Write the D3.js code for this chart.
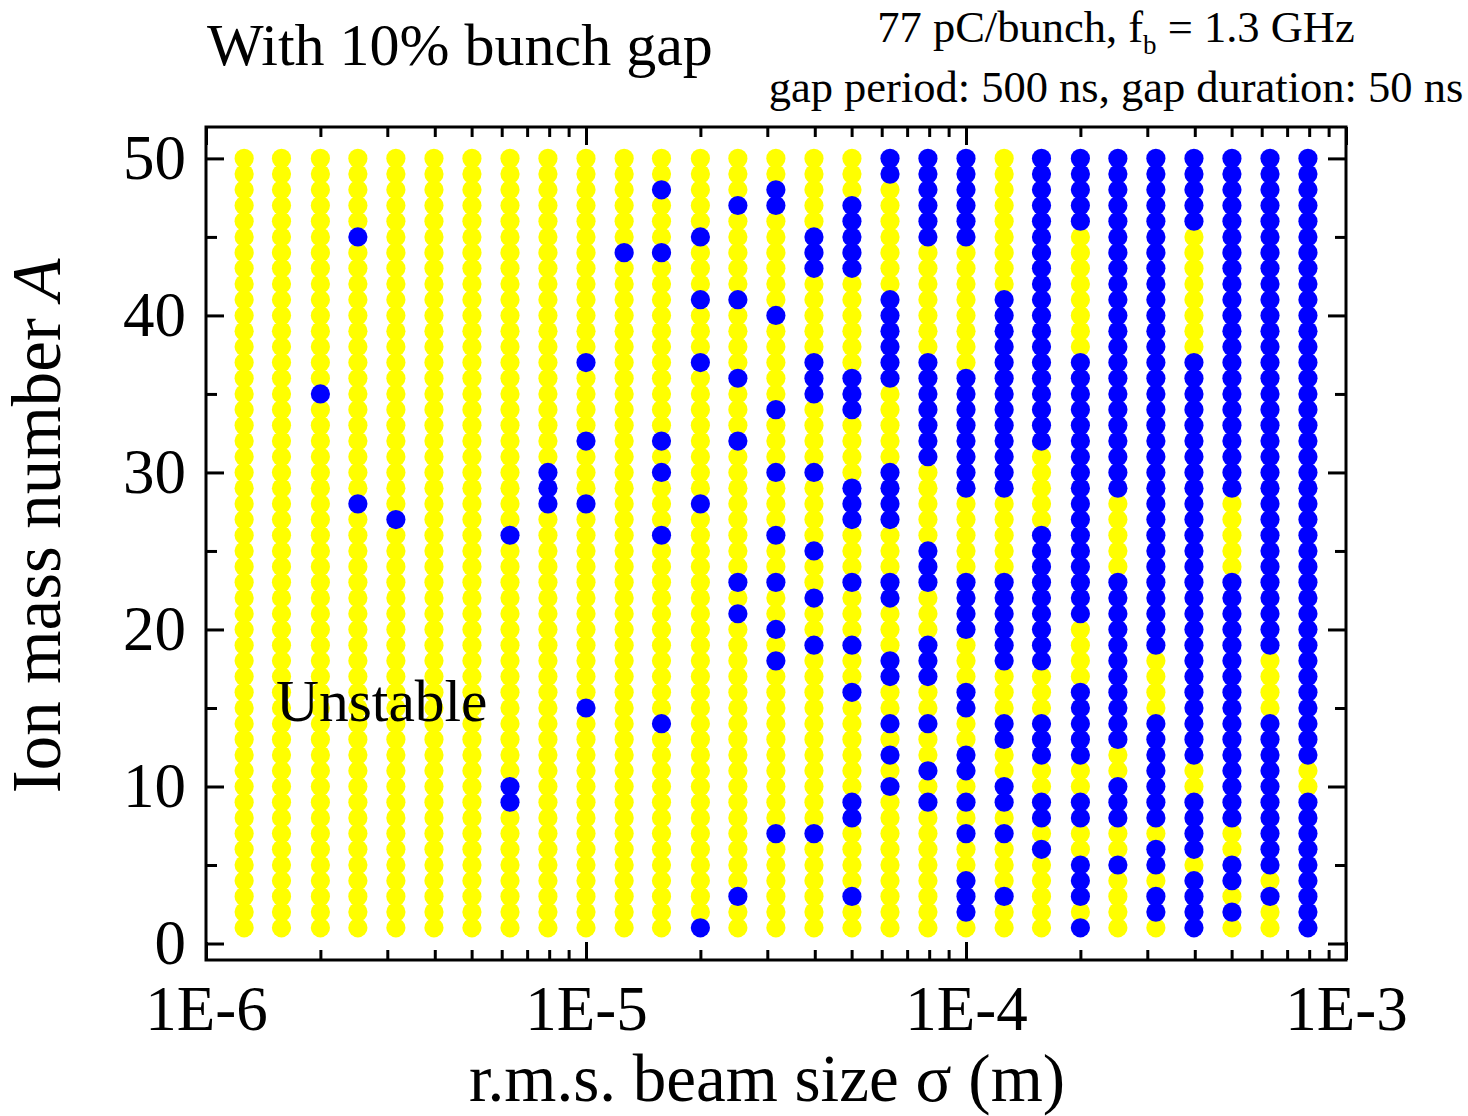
<!DOCTYPE html>
<style>

body { margin: 0; background: #fff; }
text { font-family: "Liberation Serif", "Times New Roman", serif; fill: #000; }
.axis .domain { display: none; }
.axis line { stroke: #000; stroke-width: 3; }

</style>
<svg width="1468" height="1116"></svg>
<script src="https://d3js.org/d3.v7.min.js"></script>
<script>

// r.m.s. beam size (m), one column of the scan each
var sigma = [1.26e-6, 1.58e-6, 2.00e-6, 2.51e-6, 3.16e-6, 3.98e-6, 5.01e-6, 6.31e-6, 7.94e-6,
             1.00e-5, 1.26e-5, 1.58e-5, 2.00e-5, 2.51e-5, 3.16e-5, 3.98e-5, 5.01e-5, 6.31e-5, 7.94e-5,
             1.00e-4, 1.26e-4, 1.58e-4, 2.00e-4, 2.51e-4, 3.16e-4, 3.98e-4, 5.01e-4, 6.31e-4, 7.94e-4];

// ion mass numbers, same order as the characters of each stability string
var massNumbers = [50, 49, 48, 47, 46, 45, 44, 43, 42, 41,
                   40, 39, 38, 37, 36, 35, 34, 33, 32, 31,
                   30, 29, 28, 27, 26, 25, 24, 23, 22, 21,
                   20, 19, 18, 17, 16, 15, 14, 13, 12, 11,
                   10, 9, 8, 7, 6, 5, 4, 3, 2, 1];

// one string per sigma column, A = 50 ... 1 ; "#" = stable (blue), "." = unstable (yellow)
var stability = [
  ".......... .......... .......... .......... ..........",
  ".......... .......... .......... .......... ..........",
  ".......... .....#.... .......... .......... ..........",
  ".....#.... .......... ..#....... .......... ..........",
  ".......... .......... ...#...... .......... ..........",
  ".......... .......... .......... .......... ..........",
  ".......... .......... .......... .......... ..........",
  ".......... .......... ....#..... .......... ##........",
  ".......... .......... ###....... .......... ..........",
  ".......... ...#....#. ..#....... .....#.... ..........",
  "......#... .......... .......... .......... ..........",
  "..#...#... ........#. #...#..... ......#... ..........",
  ".....#...# ...#...... ..#....... .......... .........#",
  "...#.....# ....#...#. .......#.# .......... .......#..",
  "..##...... #.....#... #...#..#.. #.#....... ...#......",
  ".....###.. ...###.... #....#..#. .#........ ...#......",
  "...#####.. ....###... .###...#.. .#..#..... .##....#..",
  "##.......# #####..... ####...##. ..##..#.#. #.........",
  "######.... ...####### .....###.. .###..#..# .#........",
  "######.... ....###### ##.....### #...##..## .#.#..###.",
  ".........# ########## ##.....### ###...##.. ##.#...#..",
  "########## #########. ....###### ###...###. .##.#.....",
  "#####..... ...####### ########## ....#####. .##..###.#",
  "########## ########## ##.....### ########.. ###..#....",
  "########## ########## ########## ##....#### ###.##.##.",
  "#####..... ...####### ########## #########. .####.####",
  "########## ########## ##.....### ########## ###..##.#.",
  "########## ########## ########## ##....#### ######.#..",
  "########## ########## ########## #########. .#########"
];

var xTicks = [1e-6, 1e-5, 1e-4, 1e-3],
    xTickLabels = ["1E-6", "1E-5", "1E-4", "1E-3"],
    yTicks = [0, 10, 20, 30, 40, 50],
    yMinorTicks = [5, 15, 25, 35, 45];

var svg = d3.select("svg"),
    margin = {top: 127, right: 122, bottom: 156, left: 206},
    width = +svg.attr("width") - margin.left - margin.right,
    height = +svg.attr("height") - margin.top - margin.bottom,
    g = svg.append("g").attr("transform", "translate(" + margin.left + "," + margin.top + ")");

var x = d3.scaleLog()
    .domain([1e-6, 1e-3])
    .range([0, width]);

var y = d3.scaleLinear()
    .domain([-1.05, 52])
    .range([height, 0]);

var color = {unstable: "#ffff00", stable: "#0000ff"};

var cells = [];
sigma.forEach(function(s, i) {
  var flags = stability[i].replace(/ /g, "");
  massNumbers.forEach(function(a, j) {
    cells.push({sigma: s, A: a, stable: flags[j] === "#"});
  });
});

// unstable first, stable drawn over them
var dots = g.append("g");
dots.selectAll("circle.unstable")
    .data(cells.filter(function(d) { return !d.stable; }))
  .enter().append("circle")
    .attr("class", "unstable")
    .attr("cx", function(d) { return x(d.sigma); })
    .attr("cy", function(d) { return y(d.A); })
    .attr("r", 9.6)
    .attr("fill", color.unstable);

dots.selectAll("circle.stable")
    .data(cells.filter(function(d) { return d.stable; }))
  .enter().append("circle")
    .attr("class", "stable")
    .attr("cx", function(d) { return x(d.sigma); })
    .attr("cy", function(d) { return y(d.A); })
    .attr("r", 9.6)
    .attr("fill", color.stable);

var xMinor = x.ticks().filter(function(d) { return xTicks.indexOf(d) < 0; });

function styleAxis(sel) {
  sel.attr("font-family", "Liberation Serif, Times New Roman, serif")
     .attr("font-size", 63);
}

// bottom
g.append("g")
    .attr("class", "axis")
    .attr("transform", "translate(0," + height + ")")
    .call(d3.axisBottom(x).tickValues(xTicks).tickSize(-18).tickPadding(25)
      .tickFormat(function(d, i) { return xTickLabels[i]; }))
    .call(styleAxis);

g.append("g")
    .attr("class", "axis")
    .attr("transform", "translate(0," + height + ")")
    .call(d3.axisBottom(x).tickValues(xMinor).tickSize(-10).tickFormat(""));

// top
g.append("g")
    .attr("class", "axis")
    .call(d3.axisTop(x).tickValues(xTicks).tickSize(-18).tickFormat(""));

g.append("g")
    .attr("class", "axis")
    .call(d3.axisTop(x).tickValues(xMinor).tickSize(-10).tickFormat(""));

// left
g.append("g")
    .attr("class", "axis")
    .call(d3.axisLeft(y).tickValues(yTicks).tickSize(-18).tickPadding(20))
    .call(styleAxis);

g.append("g")
    .attr("class", "axis")
    .call(d3.axisLeft(y).tickValues(yMinorTicks).tickSize(-11).tickFormat(""));

// right
g.append("g")
    .attr("class", "axis")
    .attr("transform", "translate(" + width + ",0)")
    .call(d3.axisRight(y).tickValues(yTicks).tickSize(-18).tickFormat(""));

g.append("g")
    .attr("class", "axis")
    .attr("transform", "translate(" + width + ",0)")
    .call(d3.axisRight(y).tickValues(yMinorTicks).tickSize(-11).tickFormat(""));

// frame
g.append("rect")
    .attr("width", width)
    .attr("height", height)
    .attr("fill", "none")
    .attr("stroke", "#000")
    .attr("stroke-width", 3);

// axis titles
svg.append("text")
    .attr("x", 767)
    .attr("y", 1101)
    .attr("text-anchor", "middle")
    .attr("font-size", 67)
    .text("r.m.s. beam size \u03c3 (m)");

var yTitle = svg.append("text")
    .attr("transform", "translate(60,526) rotate(-90)")
    .attr("text-anchor", "middle")
    .attr("font-size", 69);
yTitle.append("tspan").text("Ion mass number ");
yTitle.append("tspan").attr("font-style", "italic").text("A");

// annotations
svg.append("text")
    .attr("x", 207)
    .attr("y", 65)
    .attr("font-size", 60)
    .text("With 10% bunch gap");

var info = svg.append("text")
    .attr("x", 1116)
    .attr("y", 42)
    .attr("text-anchor", "middle")
    .attr("font-size", 44.5);
info.append("tspan").text("77 pC/bunch, f");
info.append("tspan").attr("font-size", 27).attr("dy", 12).text("b");
info.append("tspan").attr("dy", -12).text(" = 1.3 GHz");

svg.append("text")
    .attr("x", 1116)
    .attr("y", 102)
    .attr("text-anchor", "middle")
    .attr("font-size", 44.5)
    .text("gap period: 500 ns, gap duration: 50 ns");

g.append("text")
    .attr("x", 276 - margin.left)
    .attr("y", 721 - margin.top)
    .attr("font-size", 59.5)
    .text("Unstable");

</script>
